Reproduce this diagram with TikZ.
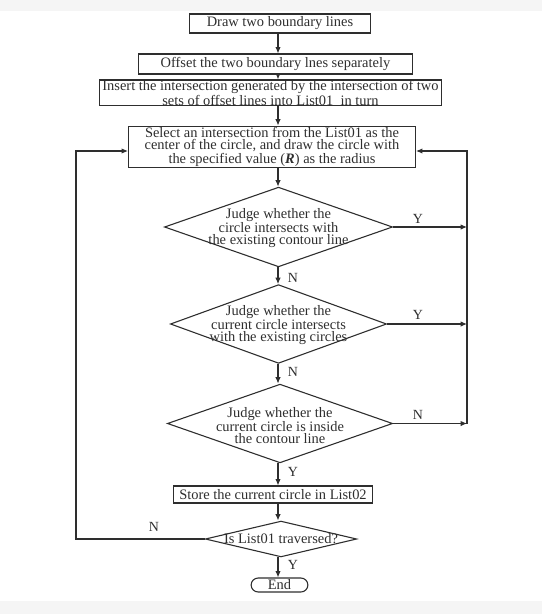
\documentclass[tikz,border=0pt]{standalone}
\usepackage{fontspec}
\setmainfont{Liberation Serif}
\usetikzlibrary{shapes.geometric,arrows.meta}
\definecolor{ink}{HTML}{2E2E2E}
\definecolor{band}{HTML}{F5F5F5}
\tikzset{
  box/.style={draw=ink, line width=1.1pt, inner sep=0pt, rectangle, text=ink},
  dia/.style={draw=ink, line width=1.1pt, inner sep=0pt, diamond},
  txt/.style={align=center, text=ink, inner sep=0pt, font=\fontsize{14.5}{12.3}\selectfont},
  lbl/.style={text=ink, inner sep=0pt, font=\fontsize{14}{14}\selectfont},
  arr/.style={draw=ink, line width=1.1pt, -{Latex[length=6.5pt,width=5.5pt]}},
  ln/.style={draw=ink, line width=1.1pt}
}
\begin{document}
\begin{tikzpicture}[x=1bp,y=-1bp]
\useasboundingbox (0,0) rectangle (542,614);
\fill[band] (0,0) rectangle (542,11);
\fill[band] (0,601) rectangle (542,614);
\coordinate (c) at (278,0);
\coordinate (L) at (76,0);
\coordinate (R) at (467,0);
\coordinate (loopy) at (0,151);
% boxes
\node[box, minimum width=182, minimum height=19] (b1) at (280,23.5) {};
\node[txt] at (b1) {Draw two boundary lines};
\node[box, minimum width=275, minimum height=20] (b2) at (275.5,64) {};
\node[txt] at (b2) {Offset the two boundary lnes separately};
\node[box, minimum width=343, minimum height=26] (b3) at (270.5,93) {};
\node[txt] at (b3) {Insert the intersection generated by the intersection of two\\sets of offset lines into List01\ \ in turn};
\node[box, minimum width=288, minimum height=42] (b4) at (272,147) {};
\node[txt] at (b4) {Select an intersection from the List01 as the\\center of the circle, and draw the circle with\\the specified value (\textbf{\textit{R}}) as the radius};
% diamonds
\node[dia, minimum width=229, minimum height=80] (d1) at (278.5,227) {};
\node[txt] at ([yshift=-1]d1) {Judge whether the\\circle intersects with\\the existing contour line};
\node[dia, minimum width=217, minimum height=79] (d2) at (278.5,324) {};
\node[txt] at ([yshift=-1]d2) {Judge whether the\\current circle intersects\\with the existing circles};
\node[dia, minimum width=226, minimum height=79] (d3) at (280,423.5) {};
\node[txt] at ([yshift=-2]d3) {Judge whether the\\current circle is inside\\the contour line};
\node[box, minimum width=200, minimum height=17] (b5) at (273,494.5) {};
\node[txt] at (b5) {Store the current circle in List02};
\node[dia, minimum width=152, minimum height=36] (d4) at (281,539) {};
\node[txt] at (d4) {Is List01 traversed?};
\node[box, rounded corners=7bp, minimum width=57, minimum height=14] (e) at (279.5,585) {};
\node[txt] at (e) {End};
% main flow
\draw[arr] (b1.south -| c) -- (b2.north -| c);
\draw[arr] (b2.south -| c) -- (b3.north -| c);
\draw[arr] (b3.south -| c) -- (b4.north -| c);
\draw[arr] (b4.south -| c) -- (d1.north -| c);
\draw[arr] (d1.south -| c) -- (d2.north -| c);
\draw[arr] (d2.south -| c) -- (d3.north -| c);
\draw[arr] (d3.south -| c) -- (b5.north -| c);
\draw[arr] (b5.south -| c) -- (d4.north -| c);
\draw[arr] (d4.south -| c) -- (e.north -| c);
% right loop
\draw[arr] (d1.east) -- (R |- d1.east);
\draw[arr] (d2.east) -- (R |- d2.east);
\draw[arr] (d3.east) -- (R |- d3.east);
\draw[arr] (R |- d3.east) -- (R |- loopy) -- (b4.east |- loopy);
% left loop
\draw[arr] (d4.west) -- (L |- d4.west) -- (L |- loopy) -- (b4.west |- loopy);
% labels
\node[lbl] at (418,219) {Y};
\node[lbl] at (418,315) {Y};
\node[lbl] at (418,415) {N};
\node[lbl] at (293,278) {N};
\node[lbl] at (293,372) {N};
\node[lbl] at (293,472) {Y};
\node[lbl] at (154,527) {N};
\node[lbl] at (293,565) {Y};
\end{tikzpicture}
\end{document}
